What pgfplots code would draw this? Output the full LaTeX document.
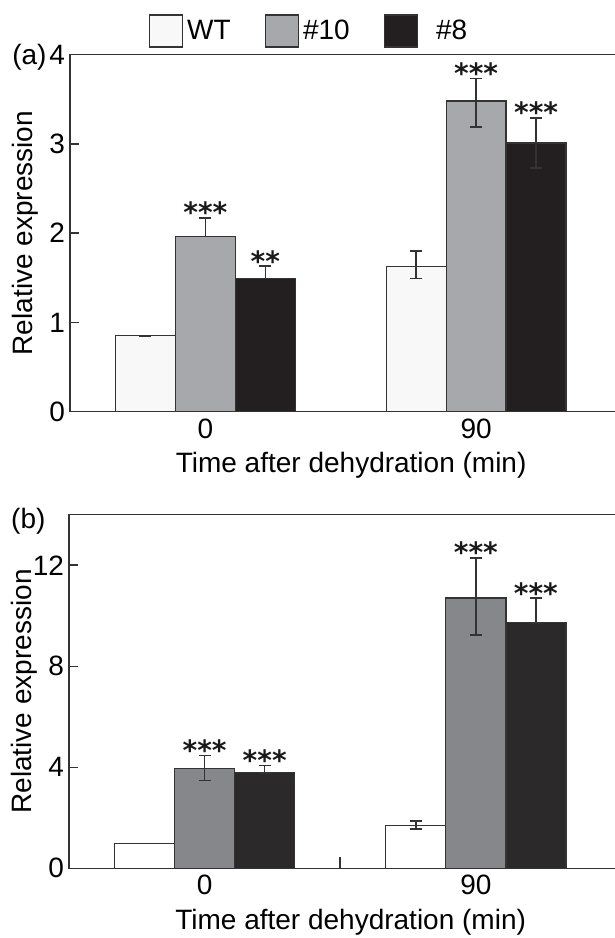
\documentclass[border=0pt]{standalone}
\usepackage{pgfplots}
\usepackage{pgfplotstable}
\usepackage{fontspec}
\setmainfont{Liberation Sans}
\newfontfamily\starfont{DejaVu Sans}
\pgfplotsset{compat=1.18}

\definecolor{axiscol}{HTML}{333333}
\definecolor{wtA}{HTML}{F8F8F8}
\definecolor{tenA}{HTML}{A7A8AB}
\definecolor{eightA}{HTML}{231F20}
\definecolor{tenB}{HTML}{86878A}
\definecolor{eightB}{HTML}{2B292A}

% x = group (0 -> 0 min, 1 -> 90 min), y = mean, ep/em = error up/down
\pgfplotstableread{
x y ep em star
0 0.85 0 0 {}
1 1.63 0.17 0.14 {}
}\tabAwt
\pgfplotstableread{
x y ep em star
0 1.96 0.21 0 ***
1 3.48 0.25 0.29 ***
}\tabAten
\pgfplotstableread{
x y ep em star
0 1.49 0.14 0 **
1 3.01 0.28 0.28 ***
}\tabAeight

\pgfplotstableread{
x y ep em star
0 0.99 0 0 {}
1 1.69 0.19 0.14 {}
}\tabBwt
\pgfplotstableread{
x y ep em star
0 3.96 0.50 0.49 ***
1 10.70 1.59 1.47 ***
}\tabBten
\pgfplotstableread{
x y ep em star
0 3.78 0.28 0 ***
1 9.72 0.98 0 ***
}\tabBeight

\pgfplotsset{
  panel/.style={
    scale only axis, clip=false,
    ybar=0pt, bar width=0.2214,
    xmin=-0.5, xmax=1.524, ymin=0,
    xtick={0,1}, xticklabels={0,90},
    tick pos=left, tick align=inside,
    major tick length=4.5pt,
    axis line style={draw=axiscol, line width=0.75pt},
    tick style={draw=axiscol, line width=0.75pt},
    xtick style={draw=none},
    yticklabel style={xshift=1pt},
    /pgf/number format/assume math mode=true,
    xlabel={Time after dehydration (min)},
    ylabel={Relative expression},
    xlabel style={at={(axis description cs:0.513,0)}, anchor=base, yshift=-30.6pt},
    ylabel style={at={(axis description cs:-0.081,0.5)}, anchor=center},
    every axis plot/.append style={draw=axiscol, line width=0.65pt},
  },
  stars/.style={
    nodes near coords,
    point meta=explicit symbolic,
    visualization depends on={\thisrow{ep} \as \ep},
    nodes near coords style={font=\starfont\bfseries\fontsize{14}{14}\selectfont,
      inner sep=0pt, anchor=south, text=black!90, yshift={\ep*#1-2.8pt}},
  },
  errs/.style={
    error bars/y dir=both, error bars/y explicit,
    error bars/error bar style={line width=0.7pt, draw=axiscol},
    error bars/error mark options={rotate=90, mark size=3pt, line width=0.7pt, draw=axiscol},
  },
}

\begin{document}
\begin{tikzpicture}[font=\fontsize{14}{16.8}\selectfont]
\useasboundingbox (0,0) rectangle (307.5pt,-469pt);

\begin{axis}[
    panel,
    at={(35pt,-205.85pt)}, anchor=south west,
    width=274pt, height=178.6pt,
    ymax=4, ytick={0,1,2,3,4},
    legend columns=3,
    legend image code/.code={\draw[#1] (0pt,-8pt) rectangle (16.5pt,8pt);},
    legend style={at={(0.438,1.066)}, anchor=center, draw=none, fill=none,
      /tikz/every even column/.append style={column sep=15pt}},
]
\addplot[fill=wtA, errs] table[x=x, y=y, y error plus=ep, y error minus=em] {\tabAwt};
\addplot[fill=tenA, stars=44.65pt, errs] table[x=x, y=y, y error plus=ep, y error minus=em, meta=star] {\tabAten};
\addplot[fill=eightA, stars=44.65pt, errs] table[x=x, y=y, y error plus=ep, y error minus=em, meta=star] {\tabAeight};
\legend{WT, \#10, \hspace{7pt}\#8}
\node[anchor=base west, inner sep=0pt] at (axis description cs:-0.106,0.971) {(a)};
\end{axis}

\begin{axis}[
    panel,
    at={(34.5pt,-434.15pt)}, anchor=south west,
    width=274.5pt, height=176.8pt,
    ymax=14, ytick={0,4,8,12},
    extra x ticks={0.5}, extra x tick labels={},
    extra x tick style={xtick style={draw=axiscol}, major tick length=5.5pt},
]
\addplot[fill=white, errs] table[x=x, y=y, y error plus=ep, y error minus=em] {\tabBwt};
\addplot[fill=tenB, stars=12.63pt, errs] table[x=x, y=y, y error plus=ep, y error minus=em, meta=star] {\tabBten};
\addplot[fill=eightB, stars=12.63pt, errs] table[x=x, y=y, y error plus=ep, y error minus=em, meta=star] {\tabBeight};
\node[anchor=base west, inner sep=0pt] at (axis description cs:-0.106,0.96) {(b)};
\end{axis}
\end{tikzpicture}
\end{document}
